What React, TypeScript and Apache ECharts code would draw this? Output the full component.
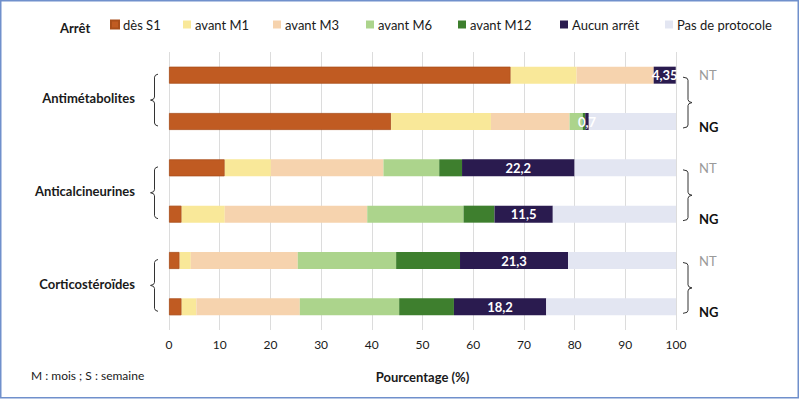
import React, { useEffect, useRef } from "react";
import * as echarts from "echarts";

const groups = ["Antimétabolites", "Anticalcineurines", "Corticostéroïdes"];
const subgroups = ["NT", "NG"];
const rows = groups.flatMap((g) => subgroups.map((s) => `${g}|${s}`));

const seriesNames = ["dès S1", "avant M1", "avant M3", "avant M6", "avant M12", "Aucun arrêt", "Pas de protocole"];
const seriesColors = ["#c05b22", "#f9e899", "#f6d3ae", "#acd48c", "#3e7f2e", "#2a1b4f", "#e3e6f2"];

// rows: Antimét NT, Antimét NG, Anticalc NT, Anticalc NG, Cortico NT, Cortico NG
const desS1 = [67.4, 43.8, 11.0, 2.5, 2.1, 2.5];
const avantM1 = [13.0, 19.7, 9.1, 8.5, 2.2, 2.9];
const avantM3 = [15.2, 15.5, 22.2, 28.1, 21.1, 20.4];
const avantM6 = [0, 2.6, 11.0, 19.0, 19.4, 19.6];
const avantM12 = [0, 0.5, 4.5, 6.1, 12.6, 10.8];
const aucunArret = [4.35, 0.7, 22.2, 11.5, 21.3, 18.2];
const pasProtocole = [0, 17.2, 20.0, 24.3, 21.3, 25.6];
const seriesValues = [desS1, avantM1, avantM3, avantM6, avantM12, aucunArret, pasProtocole];

const xTicks = [0, 10, 20, 30, 40, 50, 60, 70, 80, 90, 100];
const legendLeft = [110, 183, 273, 366, 458, 560, 665];

const FONT = "Lato";
const TXT = "#1a1a1a";

export default function App() {
  const ref = useRef<HTMLDivElement>(null);
  useEffect(() => {
    document.body.style.margin = "0";
    const chart = echarts.init(ref.current!, null, { renderer: "svg" });
    const option: any = {
      animation: false,
      textStyle: { fontFamily: FONT, color: TXT },
      title: {
        text: "Arrêt",
        left: 55,
        top: 16,
        textStyle: { fontFamily: FONT, fontSize: 13, fontWeight: "bold", color: TXT },
      },
      legend: seriesNames.map((n, i) => ({
        data: [n],
        left: legendLeft[i],
        top: 18,
        icon: "rect",
        itemWidth: 8,
        itemHeight: 8,
        itemGap: 0,
        padding: 0,
        textStyle: { fontFamily: FONT, fontSize: 13, color: TXT, padding: [0, 0, 0, -1] },
        selectedMode: false,
      })),
      grid: { left: 169, right: 124, top: 52, bottom: 69 },
      xAxis: {
        type: "value",
        min: 0,
        max: 100,
        interval: 10,
        axisLine: { show: false },
        axisTick: { show: false },
        splitLine: { show: true, lineStyle: { color: "#dcdcdc", width: 1 } },
        axisLabel: {
          margin: 8,
          fontFamily: FONT,
          fontSize: 12,
          color: TXT,
          formatter: (v: number) => (xTicks.includes(v) ? String(v) : ""),
        },
        name: "Pourcentage (%)",
        nameLocation: "middle",
        nameGap: 40,
        nameTextStyle: { fontFamily: FONT, fontSize: 13, fontWeight: "bold", color: TXT },
      },
      yAxis: [
        {
          type: "category",
          data: rows,
          inverse: true,
          position: "right",
          axisLine: { show: false },
          axisTick: { show: false },
          splitLine: { show: false },
          axisLabel: {
            margin: 23,
            formatter: (v: string) => {
              const s = v.split("|")[1];
              return s === "NT" ? `{nt|${s}}` : `{ng|${s}}`;
            },
            rich: {
              nt: { fontFamily: FONT, fontSize: 13, color: "#9a9a9a" },
              ng: { fontFamily: FONT, fontSize: 13, fontWeight: "bold", color: "#111", padding: [10, 0, 0, 0] },
            },
          },
        },
        {
          type: "category",
          data: groups,
          inverse: true,
          position: "left",
          axisLine: { show: false },
          axisTick: { show: false },
          splitLine: { show: false },
          axisLabel: {
            margin: 34,
            fontFamily: FONT,
            fontSize: 13,
            fontWeight: "bold",
            color: TXT,
          },
        },
      ],
      series: seriesNames.map((n, i) => ({
        name: n,
        type: "bar",
        stack: "total",
        yAxisIndex: 0,
        barWidth: 17,
        data: seriesValues[i],
        itemStyle: {
          color: seriesColors[i],
          borderColor: i === 0 ? "#a94e1a" : undefined,
          borderWidth: i === 0 ? 0.8 : 0,
        },
        label:
          i === 5
            ? {
                show: true,
                position: "inside",
                color: "#fff",
                fontFamily: FONT,
                fontWeight: "bold",
                fontSize: 13,
                formatter: (p: any) => String(p.value).replace(".", ","),
              }
            : { show: false },
      })),
    };
    chart.setOption(option);

    const graphics: any[] = [
      {
        type: "rect",
        shape: { x: 0.75, y: 0.75, width: 797.5, height: 397 },
        style: { fill: "none", stroke: "#7090cc", lineWidth: 1.5 },
        silent: true,
      },
      {
        type: "text",
        left: 31,
        top: 369,
        style: { text: "M : mois ; S : semaine", fontFamily: FONT, fontSize: 12, fill: TXT },
      },
    ];
    for (let g = 0; g < groups.length; g++) {
      const yA = chart.convertToPixel({ yAxisIndex: 0 } as any, rows[2 * g]) as number;
      const yB = chart.convertToPixel({ yAxisIndex: 0 } as any, rows[2 * g + 1]) as number;
      // left brace
      {
        const t = yA - 1;
        const b = yB + 4.5;
        const m = (t + b) / 2;
        const xr = 158, xv = 154.5, xt = 150.5;
        graphics.push({
          type: "polyline",
          shape: {
            points: [
              [xr, t], [xv + 1, t + 1], [xv, t + 3], [xv, m - 3], [xv - 1, m - 1], [xt, m],
              [xv - 1, m + 1], [xv, m + 3], [xv, b - 3], [xv + 1, b - 1], [xr, b],
            ],
          },
          style: { stroke: "#333", lineWidth: 1, fill: "none" },
          silent: true,
        });
      }
      // right brace
      {
        const t = yA + 2;
        const b = yB + 6.5;
        const m = (t + b) / 2;
        const xl = 683, xv = 688, xt = 692;
        graphics.push({
          type: "polyline",
          shape: {
            points: [
              [xl, t], [xv - 1, t + 1], [xv, t + 3], [xv, m - 3], [xv + 1, m - 1], [xt, m],
              [xv + 1, m + 1], [xv, m + 3], [xv, b - 3], [xv - 1, b - 1], [xl, b],
            ],
          },
          style: { stroke: "#333", lineWidth: 1, fill: "none" },
          silent: true,
        });
      }
    }
    chart.setOption({ graphic: graphics });
    return () => chart.dispose();
  }, []);
  return <div ref={ref} style={{ width: 800, height: 399, overflow: "hidden" }} />;
}
